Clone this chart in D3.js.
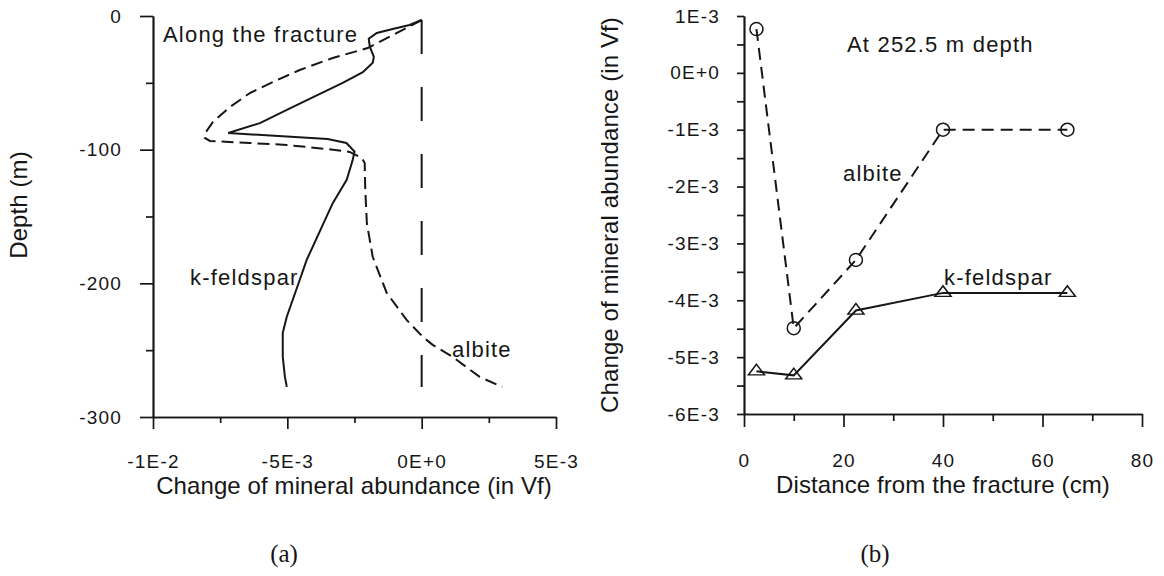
<!DOCTYPE html>
<html lang="en">
<head>
<meta charset="utf-8">
<title>Change of mineral abundance</title>
<script src="https://cdn.jsdelivr.net/npm/d3@7"></script>
<style>
  body { margin: 0; background: #fff; }
  svg text { font-family: "Liberation Sans", Arial, sans-serif; fill: #161616; }
  .tick text { font-size: 19px; letter-spacing: 1.2px; }
  .title { font-size: 24px; letter-spacing: 0.1px; }
  .note { font-size: 22px; letter-spacing: 1.2px; }
  .panel { font-family: "Liberation Serif", "Times New Roman", serif !important; font-size: 25px; }
</style>
</head>
<body>
<script>
// ---- panel (a): along the fracture, change of abundance vs depth ----
var kfsDepth  = [-3, -6.7, -9.7, -12.7, -17, -23, -30.5, -35, -42, -50, -70, -80, -87.5,
                 -92, -95, -101.5, -108, -122.5, -140, -182.5, -197.5, -225, -237, -255, -270, -277.5];
var kfsChange = [0, -0.45e-3, -1.08e-3, -1.67e-3, -1.97e-3, -1.93e-3, -1.78e-3, -1.82e-3, -2.19e-3, -2.94e-3,
                 -5.0e-3, -6.0e-3, -7.2e-3, -3.5e-3, -2.8e-3, -2.5e-3, -2.57e-3, -2.79e-3, -3.31e-3,
                 -4.28e-3, -4.54e-3, -5.02e-3, -5.17e-3, -5.17e-3, -5.09e-3, -5.02e-3];

var albDepth  = [-3, -24, -31.4, -40.4, -49.4, -57.6, -68.1, -79.3, -86.8, -91.2, -93.5, -95, -96.5,
                 -99.5, -101.7, -106.2, -110, -130, -155, -180.3, -207.2, -227.4, -240, -246, -255, -270, -277.5];
var albChange = [0, -2.01e-3, -3.31e-3, -4.54e-3, -5.54e-3, -6.39e-3, -7.14e-3, -7.77e-3, -8.03e-3, -8.07e-3,
                 -7.88e-3, -6.39e-3, -5.02e-3, -3.53e-3, -2.68e-3, -2.23e-3, -2.12e-3, -2.1e-3, -2.04e-3,
                 -1.82e-3, -1.30e-3, -0.56e-3, 0.04e-3, 0.41e-3, 1.15e-3, 2.16e-3, 3.0e-3];

var zeroDepth  = [-3, -277.5];
var zeroChange = [0, 0];

var aXMajor = [-0.01, -0.005, 0, 0.005];
var aXLabels = ["-1E-2", "-5E-3", "0E+0", "5E-3"];
var aXMinor = [-0.0075, -0.0025, 0.0025];
var aYMajor = [0, -100, -200, -300];
var aYLabels = ["0", "-100", "-200", "-300"];
var aYMinor = [-50, -150, -250];

// ---- panel (b): at 252.5 m depth, change vs distance from the fracture ----
var distance   = [2.5, 10, 22.5, 40, 65];
var albiteB    = [0.77e-3, -4.49e-3, -3.29e-3, -1.0e-3, -1.0e-3];
var kfeldsparB = [-5.25e-3, -5.32e-3, -4.18e-3, -3.87e-3, -3.87e-3];

var bXMajor = [0, 20, 40, 60, 80];
var bXLabels = ["0", "20", "40", "60", "80"];
var bXMinor = [10, 30, 50, 70];
var bYMajor = [1e-3, 0, -1e-3, -2e-3, -3e-3, -4e-3, -5e-3, -6e-3];
var bYLabels = ["1E-3", "0E+0", "-1E-3", "-2E-3", "-3E-3", "-4E-3", "-5E-3", "-6E-3"];
var bYMinor = [0.5e-3, -0.5e-3, -1.5e-3, -2.5e-3, -3.5e-3, -4.5e-3, -5.5e-3];

var width = 1164, height = 576, ink = "#161616";

var svg = d3.select("body").append("svg")
    .attr("width", width)
    .attr("height", height);

// scales
var xA = d3.scaleLinear().domain([-0.01, 0.005]).range([153, 556]);
var yA = d3.scaleLinear().domain([-300, 0]).range([417, 16]);
var xB = d3.scaleLinear().domain([0, 80]).range([744, 1142]);
var yB = d3.scaleLinear().domain([-6e-3, 1e-3]).range([414, 16]);

// draws minor + labelled major ticks for one axis
function drawAxis(maker, scale, tx, ty, major, labels, minor, bigTick, smallTick, pad) {
  var g = svg.append("g").attr("transform", "translate(" + tx + "," + ty + ")");
  g.append("g").call(maker(scale).tickValues(minor).tickSize(smallTick).tickSizeOuter(0).tickFormat(""));
  g.append("g").call(maker(scale).tickValues(major).tickSize(bigTick).tickSizeOuter(0)
      .tickPadding(pad).tickFormat(function(d, i) { return labels[i]; }));
  g.selectAll("path, line").attr("stroke", ink).attr("stroke-width", 1.7);
  return g;
}

drawAxis(d3.axisLeft, yA, 153, 0, aYMajor, aYLabels, aYMinor, 13, 7, 18);
drawAxis(d3.axisBottom, xA, 0, 417, aXMajor, aXLabels, aXMinor, 12, 6, 26);
drawAxis(d3.axisLeft, yB, 744, 0, bYMajor, bYLabels, bYMinor, 7, 7, 17);
drawAxis(d3.axisBottom, xB, 0, 414, bXMajor, bXLabels, bXMinor, 13, 7, 27);

// panel (a) curves
function pairs(xs, ys) { return xs.map(function(x, i) { return [x, ys[i]]; }); }

var lineA = d3.line()
    .x(function(d) { return xA(d[0]); })
    .y(function(d) { return yA(d[1]); });

svg.append("path")
    .attr("d", lineA(pairs(zeroChange, zeroDepth)))
    .attr("fill", "none").attr("stroke", ink).attr("stroke-width", 2)
    .attr("stroke-dasharray", "34,33");

svg.append("path")
    .attr("d", lineA(pairs(albChange, albDepth)))
    .attr("fill", "none").attr("stroke", ink).attr("stroke-width", 2)
    .attr("stroke-dasharray", "12,6");

svg.append("path")
    .attr("d", lineA(pairs(kfsChange, kfsDepth)))
    .attr("fill", "none").attr("stroke", ink).attr("stroke-width", 2);

// panel (b) lines and markers
var lineB = d3.line()
    .x(function(d) { return xB(d[0]); })
    .y(function(d) { return yB(d[1]); });

svg.append("path")
    .attr("d", lineB(pairs(distance, albiteB)))
    .attr("fill", "none").attr("stroke", ink).attr("stroke-width", 2)
    .attr("stroke-dasharray", "12,7");

svg.append("path")
    .attr("d", lineB(pairs(distance, kfeldsparB)))
    .attr("fill", "none").attr("stroke", ink).attr("stroke-width", 2);

svg.selectAll(".albPt")
    .data(pairs(distance, albiteB))
  .enter().append("circle")
    .attr("class", "albPt")
    .attr("cx", function(d) { return xB(d[0]); })
    .attr("cy", function(d) { return yB(d[1]); })
    .attr("r", 6.5)
    .attr("fill", "none").attr("stroke", ink).attr("stroke-width", 1.5);

var tri = d3.symbol().type(d3.symbolTriangle).size(90);
svg.selectAll(".kfsPt")
    .data(pairs(distance, kfeldsparB))
  .enter().append("path")
    .attr("class", "kfsPt")
    .attr("d", tri)
    .attr("transform", function(d) { return "translate(" + xB(d[0]) + "," + yB(d[1]) + ") scale(1.12,0.85)"; })
    .attr("fill", "none").attr("stroke", ink).attr("stroke-width", 1.5);

// text
function label(x, y, str, cls, rot) {
  var t = svg.append("text").attr("class", cls).text(str);
  if (rot) t.attr("transform", "translate(" + x + "," + y + ") rotate(-90)").attr("text-anchor", "middle");
  else t.attr("x", x).attr("y", y);
  return t;
}

label(163, 42, "Along the fracture", "note");
label(190, 285, "k-feldspar", "note");
label(452, 357, "albite", "note");
label(847, 52, "At 252.5 m depth", "note");
label(843, 181, "albite", "note");
label(944, 285, "k-feldspar", "note");

label(354, 494, "Change of mineral abundance (in Vf)", "title").attr("text-anchor", "middle");
label(943, 493, "Distance from the fracture (cm)", "title").attr("text-anchor", "middle");
label(27, 205, "Depth (m)", "title", true);
label(618, 215, "Change of mineral abundance (in Vf)", "title", true);

label(284, 562, "(a)", "panel").attr("text-anchor", "middle");
label(875, 562, "(b)", "panel").attr("text-anchor", "middle");
</script>
</body>
</html>
